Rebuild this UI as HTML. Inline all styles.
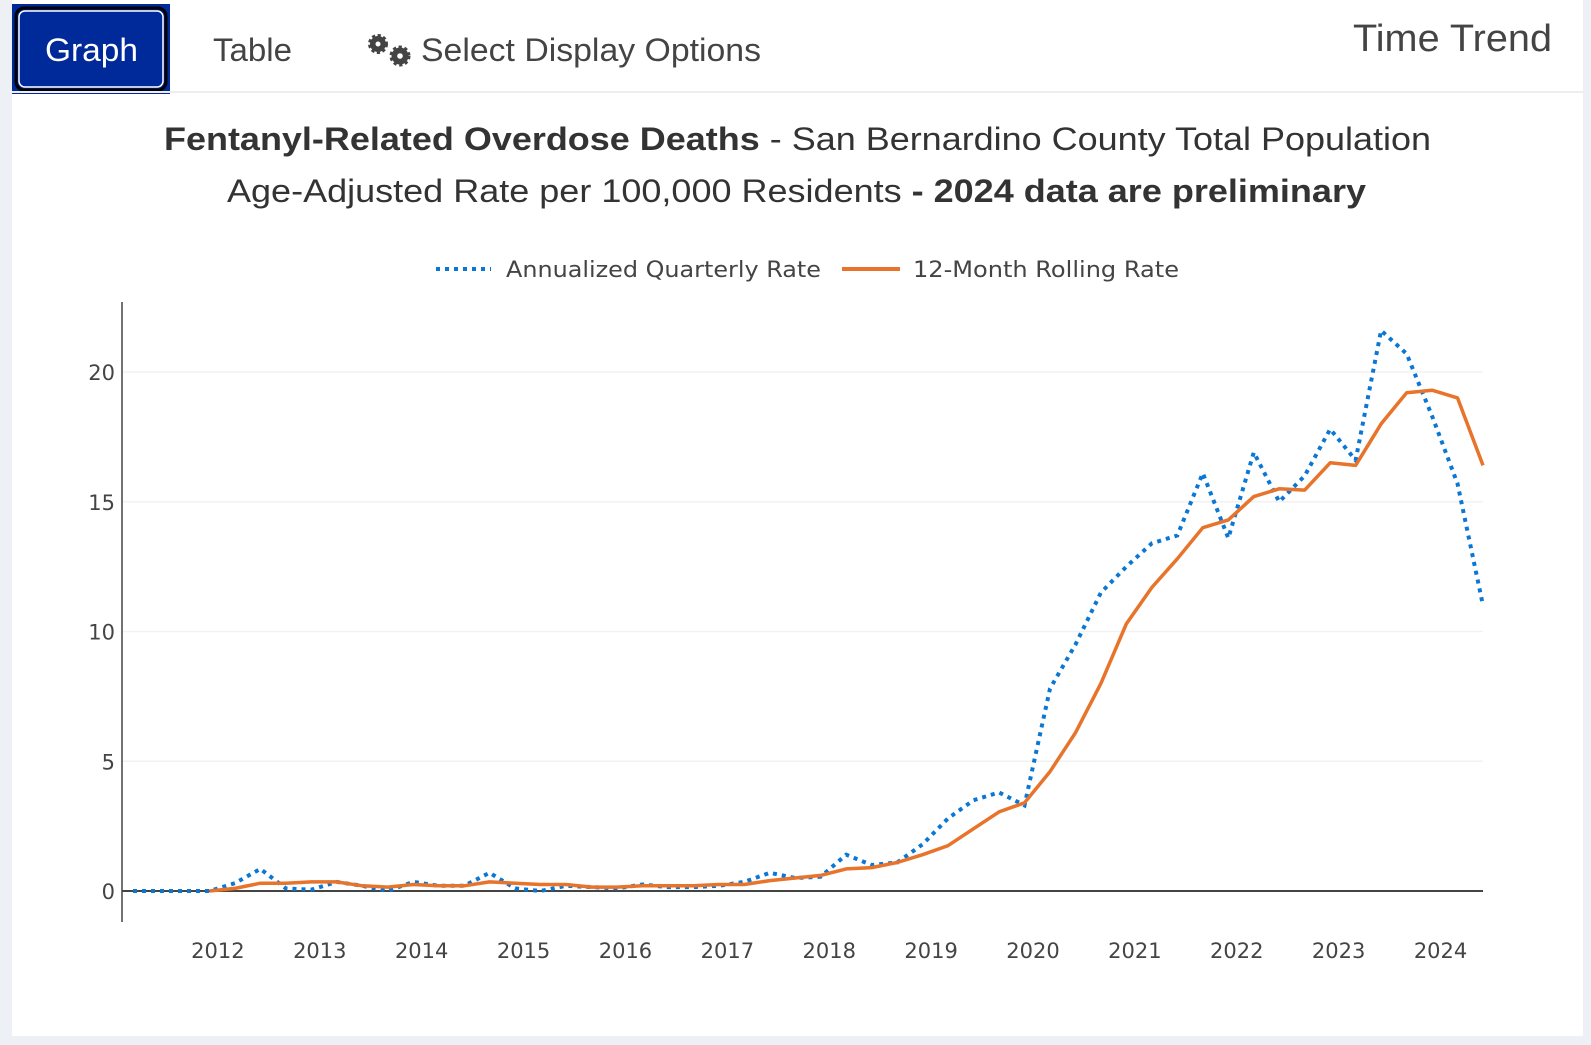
<!DOCTYPE html>
<html><head><meta charset="utf-8"><style>
html,body{margin:0;padding:0;width:1591px;height:1045px;overflow:hidden;background:#edf0f5;font-family:"Liberation Sans",sans-serif;}
#card{position:absolute;left:12px;top:0;width:1571px;height:1036px;background:#fff;}
svg{position:absolute;left:0;top:0;}
</style></head><body>
<div id="card"></div>
<svg id="chart" width="1591" height="1045">
  <rect x="12" y="4" width="158" height="90" fill="#002a9a"/>
  <rect x="16" y="8" width="150" height="82" rx="8" fill="#00299a" stroke="#000" stroke-width="3"/>
  <rect x="19" y="11" width="144" height="76" rx="6" fill="none" stroke="#fff" stroke-width="1.5"/>
  <text x="45" y="61" textLength="93" lengthAdjust="spacingAndGlyphs" font-size="32" fill="#fff">Graph</text>
  <text x="213" y="61" textLength="79" lengthAdjust="spacingAndGlyphs" font-size="32" fill="#444">Table</text>
  <g fill="#444">
    <circle cx="378" cy="44" r="8" stroke="#444" stroke-width="4" stroke-dasharray="3,2.3"/><circle cx="378" cy="44" r="6"/><circle cx="378" cy="44" r="2.5" fill="#fff"/>
    <circle cx="400" cy="56" r="8.5" stroke="#444" stroke-width="4" stroke-dasharray="3,2.5"/><circle cx="400" cy="56" r="6.5"/><circle cx="400" cy="56" r="2.8" fill="#fff"/>
  </g>
  <text x="421" y="61" textLength="340" lengthAdjust="spacingAndGlyphs" font-size="32" fill="#444">Select Display Options</text>
  <text x="1353" y="51" textLength="199" lengthAdjust="spacingAndGlyphs" font-size="38" fill="#444">Time Trend</text>
  <line x1="12" y1="92" x2="1583" y2="92" stroke="#eee" stroke-width="2"/>
  <text x="164" y="150" textLength="1267" lengthAdjust="spacingAndGlyphs" font-size="32" fill="#333"><tspan font-weight="bold">Fentanyl-Related Overdose Deaths</tspan> - San Bernardino County Total Population</text>
  <text x="227" y="202" textLength="1139" lengthAdjust="spacingAndGlyphs" font-size="32" fill="#333">Age-Adjusted Rate per 100,000 Residents <tspan font-weight="bold">- 2024 data are preliminary</tspan></text>
  <g font-family="'DejaVu Sans',sans-serif">
    <line x1="436" y1="269" x2="491" y2="269" stroke="#0a77d5" stroke-width="4" stroke-dasharray="4,5"/>
    <text x="506" y="277" textLength="315" lengthAdjust="spacingAndGlyphs" font-size="22" fill="#444">Annualized Quarterly Rate</text>
    <line x1="842" y1="269" x2="900" y2="269" stroke="#e8732a" stroke-width="4"/>
    <text x="913" y="277" textLength="266" lengthAdjust="spacingAndGlyphs" font-size="22" fill="#444">12-Month Rolling Rate</text>
  </g>
  <g id="grid"></g>
  <g id="axes" font-family="'DejaVu Sans',sans-serif"></g>
  <g id="series"></g>
</svg>
<script>
const quarterly = [0,0,0,0,0.3,0.85,0.1,0.05,0.35,0.2,0.0,0.35,0.2,0.2,0.7,0.1,0.0,0.2,0.15,0.1,0.25,0.15,0.15,0.2,0.35,0.7,0.5,0.55,1.4,1.0,1.1,1.8,2.8,3.5,3.8,3.3,7.8,9.5,11.5,12.5,13.4,13.7,16.1,13.6,16.9,15.0,16.0,17.8,16.6,21.6,20.7,18.3,15.7,11.0];
const rolling = [null,null,null,0,0.1,0.3,0.3,0.35,0.35,0.2,0.15,0.25,0.2,0.2,0.35,0.3,0.25,0.25,0.15,0.15,0.2,0.2,0.2,0.25,0.25,0.4,0.5,0.6,0.85,0.9,1.1,1.4,1.75,2.4,3.05,3.4,4.6,6.1,8.0,10.3,11.7,12.8,14.0,14.3,15.2,15.5,15.45,16.5,16.4,18.0,19.2,19.3,19.0,16.4];
const yTicks = [0,5,10,15,20];
const xYears = [2012,2013,2014,2015,2016,2017,2018,2019,2020,2021,2022,2023,2024];
const NS="http://www.w3.org/2000/svg";
const X0=133, X1=1483, Y0=891, UNIT=25.95;
function tOf(i){return 2011+(2+3*i)/12;}
function xT(t){const t0=tOf(0),t1=tOf(quarterly.length-1);return X0+(t-t0)/(t1-t0)*(X1-X0);}
function xI(i){return xT(tOf(i));}
function yV(v){return Y0-v*UNIT;}
function mk(tag,attrs,parent){const e=document.createElementNS(NS,tag);for(const k in attrs)e.setAttribute(k,attrs[k]);parent.appendChild(e);return e;}
const grid=document.getElementById('grid'),axes=document.getElementById('axes'),series=document.getElementById('series');
yTicks.forEach(v=>{
  if(v>0){const g=mk('line',{x1:122,x2:X1,y1:yV(v),y2:yV(v),stroke:'#f2f2f2','stroke-width':1.5},grid);
  
  }
  const t=mk('text',{x:115,y:yV(v)+8,'text-anchor':'end','font-size':21,fill:'#444'},axes);
  t.textContent=v;
  
  
});
xYears.forEach(yr=>{
  const t=mk('text',{x:xT(yr),y:958,'text-anchor':'middle','font-size':21,fill:'#444'},axes);
  t.textContent=yr;
  
  
});
const ya=mk('line',{x1:122,x2:122,y1:302,y2:922,stroke:'#444','stroke-width':1.5},axes);


const za=mk('line',{x1:122,x2:X1,y1:Y0,y2:Y0,stroke:'#444','stroke-width':2},axes);


function pathOf(arr){let d='',pen=false;arr.forEach((v,i)=>{if(v===null){pen=false;return;}d+=(pen?'L':'M')+xI(i).toFixed(1)+','+yV(v).toFixed(1);pen=true;});return d;}
const q=mk('path',{d:pathOf(quarterly),fill:'none',stroke:'#0a77d5','stroke-width':4,'stroke-dasharray':'4,5'},series);


const r=mk('path',{d:pathOf(rolling),fill:'none',stroke:'#e8732a','stroke-width':3.5,'stroke-linejoin':'round'},series);


</script>
</body></html>
